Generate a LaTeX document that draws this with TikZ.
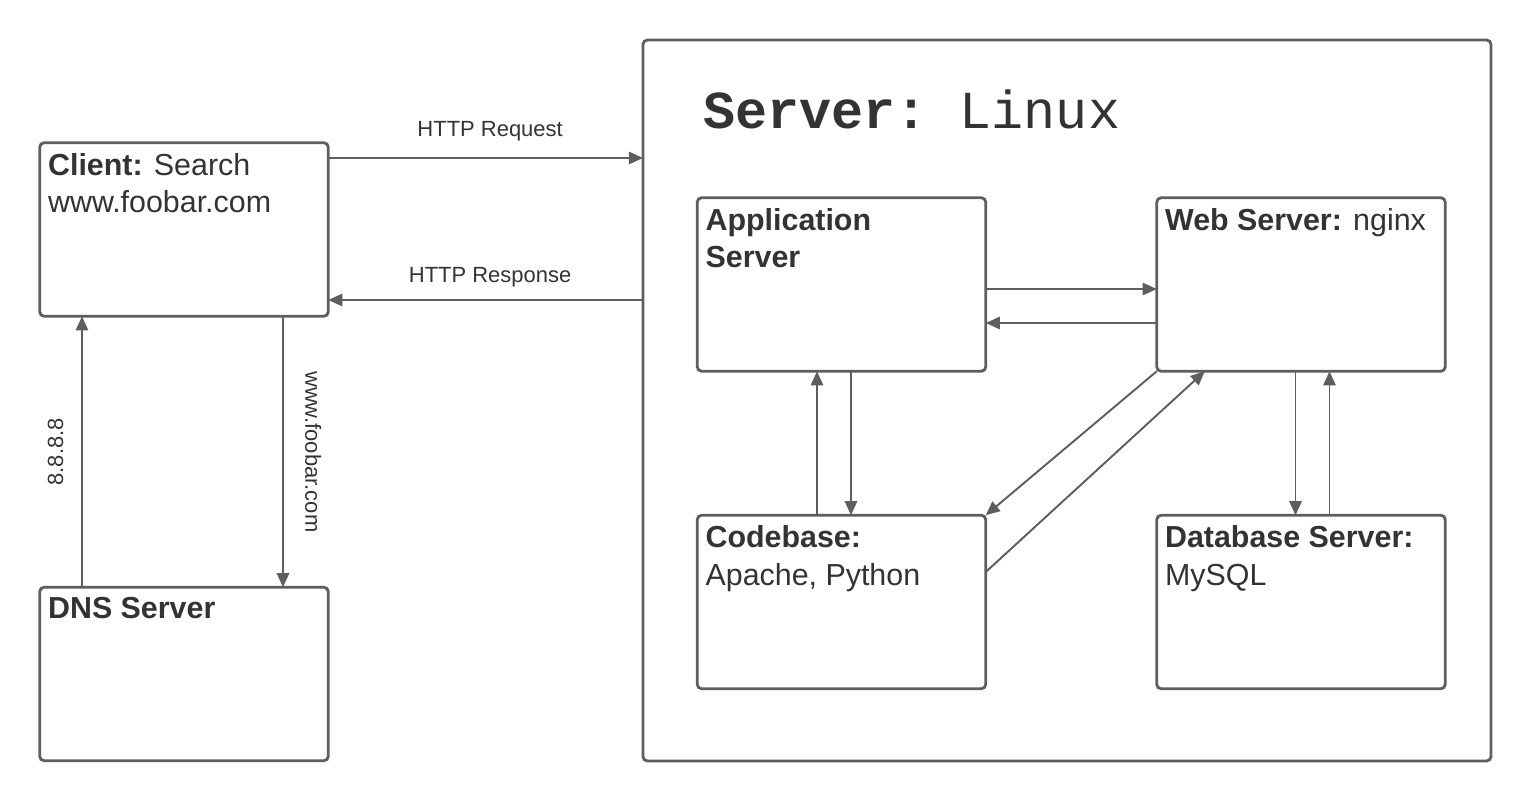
\documentclass[tikz,border=0pt]{standalone}
\usepackage{fontspec}
\setmainfont{Liberation Sans}
\setmonofont{Liberation Mono}
\usetikzlibrary{positioning,arrows.meta}
\definecolor{linegray}{HTML}{5E5E5E}
\definecolor{textgray}{HTML}{333333}

\begin{document}
\begin{tikzpicture}[box/.style={draw=linegray,line width=1.6pt,rounded corners=2.5pt,minimum width=5.77cm,minimum height=3.47cm,inner sep=0pt,outer sep=0pt},
    boxtext/.style={anchor=north west,inner sep=0pt,align=left,text=textgray,font=\fontsize{17.3}{21.5}\selectfont},
    lbl/.style={inner sep=0pt,text=textgray,font=\fontsize{12.5}{15}\selectfont},
    arr/.style={draw=linegray,line width=1.1pt,-{Triangle[length=8pt,width=7pt]}}]
        \useasboundingbox (0,0) rectangle (30.64,-16.02);

        \node[box] (client) at (3.68,-4.59) {};
        \node[box] (dns) [below=5.42cm of client] {};
        \node[box,minimum width=16.96cm,minimum height=14.42cm] (server) at (21.34,-8.01) {};
        \node[box] (app) at (16.83,-5.69) {};
        \node[box] (web) [right=3.42cm of app] {};
        \node[box] (code) [below=2.88cm of app] {};
        \node[box] (db) [below=2.88cm of web] {};

        \node[anchor=base west,inner sep=0pt,text=textgray,font=\fontsize{30.4}{36}\selectfont\ttfamily] (title) at (14.06,-2.56) {\textbf{Server:} Linux};
        \node[boxtext] (clienttxt) [below right=0.2cm and 0.16cm of client.north west] {\textbf{Client:} Search\\www.foobar.com};
        \node[boxtext] (dnstxt) [below right=0.2cm and 0.16cm of dns.north west] {\textbf{DNS Server}};
        \node[boxtext] (apptxt) [below right=0.2cm and 0.16cm of app.north west] {\textbf{Application}\\\textbf{Server}};
        \node[boxtext] (webtxt) [below right=0.2cm and 0.16cm of web.north west] {\textbf{Web Server:} nginx};
        \node[boxtext] (codetxt) [below right=0.2cm and 0.16cm of code.north west] {\textbf{Codebase:}\\Apache, Python};
        \node[boxtext] (dbtxt) [below right=0.2cm and 0.16cm of db.north west] {\textbf{Database Server:}\\MySQL};

        % client and server
        \draw[arr] ([yshift=1.43cm]client.east) -- ([yshift=1.43cm]client.east -| server.west)
            node[lbl,midway,above=9pt,xshift=0.09cm] {HTTP Request};
        \draw[arr] ([yshift=-1.41cm]client.east -| server.west) -- ([yshift=-1.41cm]client.east)
            node[lbl,midway,above=7pt,xshift=0.09cm] {HTTP Response};

        % client and dns
        \draw[arr] ([xshift=-2.04cm]dns.north) -- ([xshift=-2.04cm]client.south)
            node[lbl,midway,sloped,above=10pt] {8.8.8.8};
        \draw[arr] ([xshift=1.98cm]client.south) -- ([xshift=1.98cm]dns.north)
            node[lbl,midway,sloped,above=12pt] {www.foobar.com};

        % inside the server
        \draw[arr] ([yshift=-0.09cm]app.east) -- ([yshift=-0.09cm]app.east -| web.west);
        \draw[arr] ([yshift=-0.77cm]app.east -| web.west) -- ([yshift=-0.77cm]app.east);
        \foreach \u/\l/\dx in {app/code/0.19,web/db/-0.11}{
            \draw[arr] ([xshift=\dx cm]\u.south) -- ([xshift=\dx cm]\l.north);
        }
        \foreach \u/\l/\dx in {app/code/-0.49,web/db/0.57}{
            \draw[arr] ([xshift=\dx cm]\l.north) -- ([xshift=\dx cm]\u.south);
        }
        \draw[arr] (web.south west) -- (code.north east);
        \draw[arr] ([yshift=0.6cm]code.east) -- ([xshift=0.96cm]web.south west);
    \end{tikzpicture}
\end{document}
